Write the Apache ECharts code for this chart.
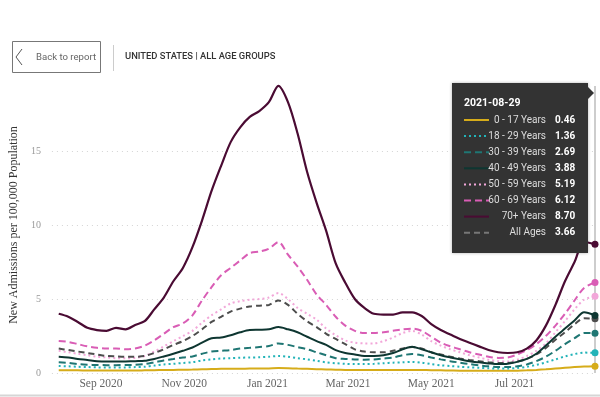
<!DOCTYPE html>
<html>
<head>
<meta charset="utf-8">
<script src="https://cdn.jsdelivr.net/npm/echarts@6/dist/echarts.min.js"></script>
<style>
  html, body { margin: 0; padding: 0; background: #fff; }
  #chart { width: 600px; height: 397px; }
</style>
</head>
<body>
<div id="chart"></div>
<script>
// weekly samples, last one is the hovered day
const dates = [
  '2020-08-01','2020-08-08','2020-08-15','2020-08-22','2020-08-29','2020-09-05','2020-09-12','2020-09-19',
  '2020-09-26','2020-10-03','2020-10-10','2020-10-17','2020-10-24','2020-10-31','2020-11-07','2020-11-14',
  '2020-11-21','2020-11-28','2020-12-05','2020-12-12','2020-12-19','2020-12-26','2021-01-02','2021-01-09',
  '2021-01-16','2021-01-23','2021-01-30','2021-02-06','2021-02-13','2021-02-20','2021-02-27','2021-03-06',
  '2021-03-13','2021-03-20','2021-03-27','2021-04-03','2021-04-10','2021-04-17','2021-04-24','2021-05-01',
  '2021-05-08','2021-05-15','2021-05-22','2021-05-29','2021-06-05','2021-06-12','2021-06-19','2021-06-26',
  '2021-07-03','2021-07-10','2021-07-17','2021-07-24','2021-07-31','2021-08-07','2021-08-14','2021-08-21',
  '2021-08-29'
]

const ageGroups = ['0 - 17 Years', '18 - 29 Years', '30 - 39 Years', '40 - 49 Years',
  '50 - 59 Years', '60 - 69 Years', '70+ Years', 'All Ages']

const age0to17 = [0.18,0.18,0.18,0.17,0.17,0.17,0.17,0.17,0.17,0.18,0.19,0.2,0.21,0.22,0.23,0.25,0.27,0.28,0.29,0.29,
  0.3,0.3,0.31,0.33,0.32,0.3,0.28,0.26,0.24,0.22,0.21,0.2,0.2,0.2,0.2,0.2,0.21,0.21,0.2,0.19,
  0.18,0.17,0.16,0.16,0.15,0.15,0.15,0.15,0.16,0.18,0.21,0.25,0.3,0.35,0.4,0.44,0.46]
const age18to29 = [0.47,0.45,0.42,0.4,0.38,0.38,0.38,0.38,0.4,0.42,0.5,0.58,0.62,0.68,0.73,0.85,0.92,0.98,1.0,1.03,
  1.05,1.06,1.1,1.15,1.1,1.0,0.92,0.82,0.72,0.66,0.62,0.6,0.6,0.62,0.66,0.7,0.72,0.75,0.7,0.6,
  0.52,0.47,0.42,0.38,0.35,0.32,0.3,0.3,0.34,0.42,0.55,0.72,0.92,1.12,1.28,1.38,1.36]
const age30to39 = [0.72,0.68,0.6,0.56,0.54,0.53,0.53,0.54,0.55,0.6,0.72,0.85,0.95,1.05,1.12,1.3,1.45,1.5,1.55,1.65,
  1.7,1.75,1.82,2.0,1.9,1.75,1.6,1.4,1.2,1.0,0.95,0.92,0.9,0.92,0.98,1.05,1.2,1.28,1.2,1.05,
  0.92,0.8,0.7,0.6,0.52,0.45,0.4,0.4,0.45,0.58,0.8,1.1,1.5,1.95,2.35,2.7,2.69]
const age40to49 = [1.1,1.05,0.95,0.88,0.8,0.77,0.77,0.78,0.8,0.82,0.95,1.12,1.3,1.5,1.72,2.05,2.35,2.4,2.55,2.75,
  2.9,2.92,2.95,3.1,2.95,2.75,2.45,2.15,1.9,1.55,1.35,1.25,1.15,1.15,1.2,1.35,1.6,1.78,1.6,1.4,
  1.2,1.05,0.92,0.8,0.72,0.65,0.6,0.62,0.75,0.95,1.3,1.85,2.45,3.0,3.55,4.1,3.88]
const age50to59 = [1.5,1.4,1.3,1.2,1.1,1.05,1.0,1.0,1.02,1.15,1.45,1.8,2.15,2.5,2.85,3.4,3.9,4.3,4.7,4.85,
  4.95,5.0,5.1,5.4,5.0,4.4,4.0,3.6,3.0,2.55,2.2,2.05,2.0,2.0,2.15,2.4,2.7,2.85,2.6,2.15,
  1.85,1.6,1.4,1.2,1.05,0.9,0.8,0.78,0.9,1.15,1.5,2.0,2.75,3.5,4.3,4.95,5.19]
const age60to69 = [2.16,2.1,1.95,1.8,1.7,1.65,1.65,1.6,1.65,1.85,2.2,2.65,3.1,3.35,3.9,4.9,5.8,6.6,7.1,7.6,
  8.1,8.2,8.4,8.85,8.0,7.2,6.3,5.3,4.6,3.8,3.2,2.85,2.7,2.7,2.75,2.85,2.95,3.0,2.85,2.45,
  2.05,1.8,1.6,1.4,1.25,1.1,1.02,1.05,1.25,1.55,1.95,2.5,3.2,4.0,4.9,5.75,6.12]
const age70plus = [4.0,3.8,3.45,3.05,2.9,2.85,3.05,2.95,3.25,3.5,4.3,5.1,6.2,7.1,8.5,10.3,12.3,14.0,15.6,16.6,
  17.3,17.7,18.3,19.4,18.3,16.2,13.6,11.5,9.6,7.4,6.1,5.0,4.4,4.0,3.95,3.95,4.1,4.1,3.85,3.3,
  2.9,2.6,2.3,2.05,1.8,1.55,1.4,1.35,1.4,1.65,2.2,3.2,4.6,6.2,7.5,8.85,8.70]
const allAges = [1.65,1.55,1.45,1.35,1.25,1.15,1.12,1.1,1.1,1.15,1.35,1.6,1.9,2.15,2.5,2.95,3.45,3.8,4.15,4.35,
  4.5,4.55,4.6,4.9,4.6,4.0,3.5,3.1,2.65,2.3,1.95,1.6,1.45,1.4,1.4,1.5,1.65,1.75,1.65,1.4,
  1.25,1.1,0.98,0.88,0.8,0.72,0.68,0.68,0.78,0.95,1.25,1.7,2.25,2.75,3.3,3.7,3.66]

const tickDates = ['2020-09-01', '2020-11-01', '2021-01-01', '2021-03-01', '2021-05-01', '2021-07-01']
const tickLabels = ['Sep 2020', 'Nov 2020', 'Jan 2021', 'Mar 2021', 'May 2021', 'Jul 2021']

const seriesValues = [age0to17, age18to29, age30to39, age40to49, age50to59, age60to69, age70plus, allAges]
const colors = ['#D6AC1A', '#22B3B8', '#1F7673', '#0E3631', '#F2A7D9', '#D95DB5', '#4A0B33', '#4d4d4d']
const lineTypes = ['solid', [2, 3], [7, 4], 'solid', [2, 3], [7, 4], 'solid', [6, 4]]
const drawOrder = [0, 1, 2, 4, 5, 7, 3, 6]

const serif = '"Liberation Serif", "Times New Roman", serif'
const sans = 'Roboto, "Noto Sans", sans-serif'
const lastIdx = dates.length - 1
const toTime = s => Date.UTC(+s.slice(0, 4), +s.slice(5, 7) - 1, +s.slice(8, 10))

const chart = echarts.init(document.getElementById('chart'))

const tickValues = tickDates.map(toTime)

chart.setOption({
  animation: false,
  grid: { left: 43, right: 5, top: 77, bottom: 24 },
  xAxis: {
    type: 'value',
    min: toTime('2020-07-27'),
    max: toTime('2021-08-29'),
    axisLine: { show: false },
    axisTick: { show: false },
    splitLine: { show: false },
    axisLabel: {
      customValues: tickValues,
      formatter: v => tickLabels[tickValues.indexOf(+v)] || '',
      color: '#666',
      fontFamily: serif,
      fontSize: 11.5,
      margin: 5,
      hideOverlap: false
    }
  },
  yAxis: {
    type: 'value',
    min: 0,
    max: 20,
    interval: 5,
    name: 'New Admissions per 100,000 Population',
    nameLocation: 'middle',
    nameGap: 29,
    nameTextStyle: { fontFamily: serif, fontSize: 12, color: '#333' },
    axisLine: { show: false },
    axisTick: { show: false },
    axisLabel: { color: '#999', fontFamily: serif, fontSize: 10, margin: 11, showMaxLabel: false },
    splitLine: { showMaxLine: false, lineStyle: { color: '#d4d4d4', type: [1, 4] } }
  },
  series: drawOrder.map(i => ({
    name: ageGroups[i],
    type: 'line',
    data: dates.map((d, k) => [toTime(d), seriesValues[i][k]]),
    smooth: 0.3,
    symbol: 'circle',
    showSymbol: true,
    showAllSymbol: true,
    symbolSize: (val, p) => (p.dataIndex === lastIdx ? 7 : 0),
    lineStyle: { color: colors[i], width: i === 6 ? 2.2 : 2, type: lineTypes[i] },
    itemStyle: { color: colors[i] },
    emphasis: { disabled: true },
    silent: true
  }))
})

// hover line at the last day
const hoverX = chart.convertToPixel({ xAxisIndex: 0, yAxisIndex: 0 }, [toTime(dates[lastIdx]), 0])
const graphics = [
  { type: 'line', shape: { x1: hoverX[0], y1: 86, x2: hoverX[0], y2: hoverX[1] }, style: { stroke: '#bdbdbd', lineWidth: 1.5 }, z: 1 },
  // header
  { type: 'rect', shape: { x: 12.5, y: 41.5, width: 88, height: 31 }, style: { fill: '#fff', stroke: '#777', lineWidth: 1 } },
  { type: 'polyline', shape: { points: [[22, 49], [16, 57], [22, 65]] }, style: { stroke: '#555', lineWidth: 1, fill: null } },
  { type: 'text', style: { text: 'Back to report', x: 36, y: 57.5, fill: '#666', font: '9.6px ' + sans, verticalAlign: 'middle' } },
  { type: 'line', shape: { x1: 113.5, y1: 45, x2: 113.5, y2: 71 }, style: { stroke: '#ccc', lineWidth: 1 } },
  { type: 'text', style: { text: 'UNITED STATES | ALL AGE GROUPS', x: 125, y: 57, fill: '#333', font: '500 9.4px ' + sans, verticalAlign: 'middle' } },
  { type: 'line', shape: { x1: 0, y1: 395.5, x2: 600, y2: 395.5 }, style: { stroke: '#d6d6d6', lineWidth: 2 } },
  // tooltip box
  { type: 'rect', shape: { x: 452, y: 83, width: 136, height: 170 }, style: { fill: '#333', shadowBlur: 3, shadowColor: 'rgba(0,0,0,0.3)' }, z: 50 },
  { type: 'polygon', shape: { points: [[588, 87], [594, 93], [588, 99]] }, style: { fill: '#333' }, z: 50 },
  { type: 'text', style: { text: dates[lastIdx], x: 464, y: 103, fill: '#fff', font: 'bold 10.5px ' + sans, verticalAlign: 'middle' }, z: 51 }
]
ageGroups.forEach((g, i) => {
  const y = 120 + i * 16.1
  graphics.push(
    { type: 'line', shape: { x1: 464, y1: y, x2: 489, y2: y }, style: { stroke: i === 7 ? '#777' : colors[i], lineWidth: 2, lineDash: Array.isArray(lineTypes[i]) ? lineTypes[i] : null }, z: 51 },
    { type: 'text', style: { text: g, x: 546, y: y, fill: '#ddd', font: '10px ' + sans, align: 'right', verticalAlign: 'middle' }, z: 51 },
    { type: 'text', style: { text: seriesValues[i][lastIdx].toFixed(2), x: 555, y: y, fill: '#fff', font: 'bold 10px ' + sans, verticalAlign: 'middle' }, z: 51 }
  )
})
chart.setOption({ graphic: graphics })
</script>
</body>
</html>
